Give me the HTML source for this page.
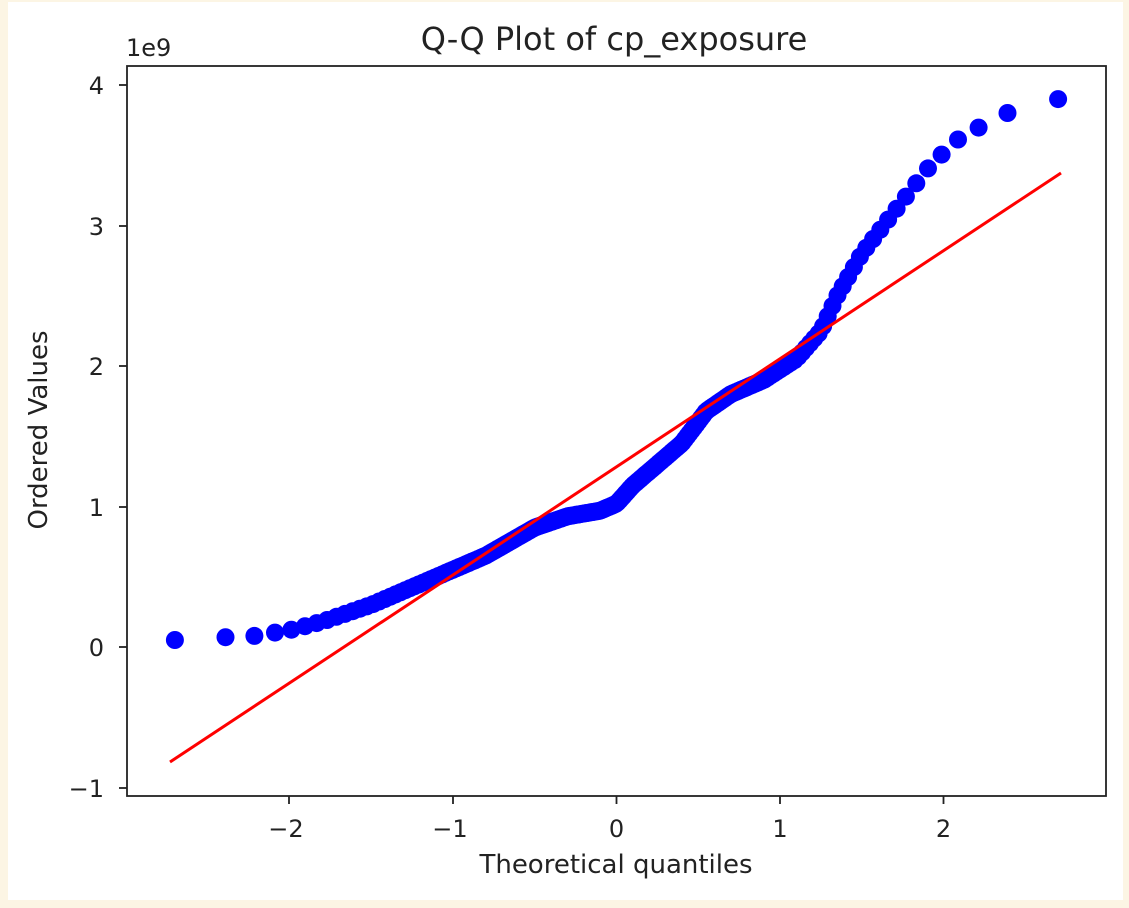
<!DOCTYPE html>
<html><head><meta charset="utf-8"><style>
html,body{margin:0;padding:0;background:#fdf6e3;}
svg{display:block;font-family:"DejaVu Sans","Liberation Sans",sans-serif;}
</style></head><body>
<svg id="s" width="1129" height="908" xmlns="http://www.w3.org/2000/svg">
<rect x="0" y="0" width="1129" height="908" fill="#fcf5e4"/>
<rect x="8" y="2" width="1115" height="898" fill="#ffffff"/>
<g id="pts"></g>
<line x1="170" y1="762" x2="1061" y2="173" stroke="#ff0000" stroke-width="3"/>
<rect x="127" y="66" width="979" height="730" fill="none" stroke="#222" stroke-width="1.8"/>
<g stroke="#222" stroke-width="1.8">
<line x1="289" y1="796" x2="289" y2="804"/><line x1="453" y1="796" x2="453" y2="804"/>
<line x1="616.5" y1="796" x2="616.5" y2="804"/><line x1="780" y1="796" x2="780" y2="804"/>
<line x1="943.5" y1="796" x2="943.5" y2="804"/>
<line x1="119" y1="85" x2="127" y2="85"/><line x1="119" y1="226" x2="127" y2="226"/>
<line x1="119" y1="366" x2="127" y2="366"/><line x1="119" y1="507" x2="127" y2="507"/>
<line x1="119" y1="647" x2="127" y2="647"/><line x1="119" y1="788" x2="127" y2="788"/>
</g>
<g font-size="24" fill="#222" text-anchor="middle">
<text x="286" y="837">−2</text><text x="450" y="837">−1</text><text x="616.5" y="837">0</text>
<text x="780" y="837">1</text><text x="943.5" y="837">2</text>
</g>
<g font-size="24" fill="#222" text-anchor="end">
<text x="104" y="94">4</text><text x="104" y="235">3</text><text x="104" y="375">2</text>
<text x="104" y="516">1</text><text x="104" y="656">0</text><text x="104" y="797">−1</text>
</g>
<text x="126" y="56" font-size="24" fill="#222">1e9</text>
<text x="614" y="50" font-size="32" fill="#222" text-anchor="middle">Q-Q Plot of cp_exposure</text>
<text x="616" y="873" font-size="26" fill="#222" text-anchor="middle">Theoretical quantiles</text>
<text transform="translate(47,430) rotate(-90)" font-size="26" fill="#222" text-anchor="middle">Ordered Values</text>
</svg>
<script>
function ppf(p){var a=[-39.69683028665376,220.9460984245205,-275.9285104469687,138.3577518672690,-30.66479806614716,2.506628277459239],b=[-54.47609879822406,161.5858368580409,-155.6989798598866,66.80131188771972,-13.28068155288572],c=[-0.007784894002430293,-0.3223964580411365,-2.400758277161838,-2.549732539343734,4.374664141464968,2.938163982698783],d=[0.007784695709041462,0.3224671290700398,2.445134137142996,3.754408661907416];var q,r;if(p<0.02425){q=Math.sqrt(-2*Math.log(p));return (((((c[0]*q+c[1])*q+c[2])*q+c[3])*q+c[4])*q+c[5])/((((d[0]*q+d[1])*q+d[2])*q+d[3])*q+1);}if(p>1-0.02425){q=Math.sqrt(-2*Math.log(1-p));return -(((((c[0]*q+c[1])*q+c[2])*q+c[3])*q+c[4])*q+c[5])/((((d[0]*q+d[1])*q+d[2])*q+d[3])*q+1);}q=p-0.5;r=q*q;return (((((a[0]*r+a[1])*r+a[2])*r+a[3])*r+a[4])*r+a[5])*q/(((((b[0]*r+b[1])*r+b[2])*r+b[3])*r+b[4])*r+1);}
var A=[[-2.70,0.05],[-2.39,0.07],[-2.2,0.08],[-2.0,0.12],[-1.8,0.18],[-1.5,0.30],[-1.2,0.45],[-1.0,0.55],[-0.8,0.65],[-0.5,0.85],[-0.3,0.93],[-0.1,0.97],[0.0,1.02],[0.1,1.15],[0.25,1.30],[0.4,1.45],[0.55,1.68],[0.7,1.80],[0.9,1.90],[1.1,2.05],[1.25,2.25],[1.35,2.50],[1.5,2.80],[1.7,3.10],[1.9,3.40],[2.07,3.60],[2.22,3.70],[2.39,3.80],[2.70,3.90]];
function f(x){for(var i=1;i<A.length;i++){if(x<=A[i][0]){var t=(x-A[i-1][0])/(A[i][0]-A[i-1][0]);return A[i-1][1]+t*(A[i][1]-A[i-1][1]);}}return A[A.length-1][1];}
var n=200,g=document.getElementById('pts'),h='';
for(var i=1;i<=n;i++){var m;if(i==1)m=1-Math.pow(0.5,1/n);else if(i==n)m=Math.pow(0.5,1/n);else m=(i-0.3175)/(n+0.365);
var x=ppf(m);var px=616.5+x*163.5,py=647-f(x)*140.5;h+='<circle cx="'+px.toFixed(1)+'" cy="'+py.toFixed(1)+'" r="9" fill="#0000ff"/>';}
g.innerHTML=h;
</script>
</body></html>
